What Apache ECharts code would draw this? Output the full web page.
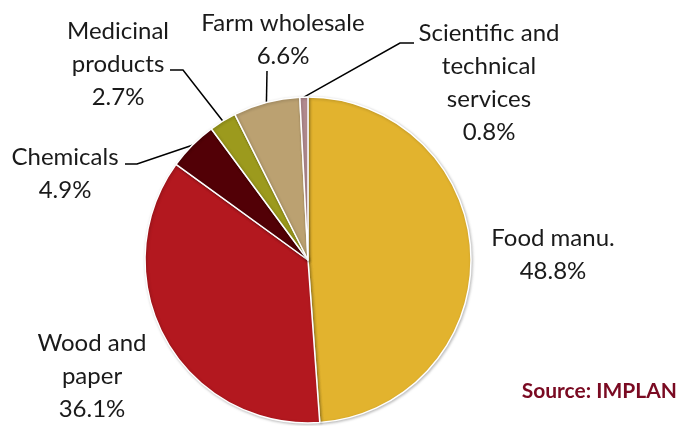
<!DOCTYPE html>
<html>
<head>
<meta charset="utf-8">
<script src="https://cdn.jsdelivr.net/npm/echarts@6/dist/echarts.min.js"></script>
<style>html,body{margin:0;padding:0;background:#fff}#c{width:678px;height:426px}</style>
</head>
<body>
<div id="c"></div>
<script>
const categories = ['Food manu.', 'Wood and\npaper', 'Chemicals', 'Medicinal\nproducts', 'Farm wholesale', 'Scientific and\ntechnical\nservices'];
const values = [48.8, 36.1, 4.9, 2.7, 6.6, 0.8];
const colors = ['#E2B32E', '#B3181F', '#520006', '#9C9A1D', '#BBA171', '#B38B90'];

// label block centres and leader-line bend points (styling only)
const labelPos = [
  {x: 553, y: 255},
  {x: 92, y: 376},
  {x: 65, y: 174},
  {x: 118, y: 64},
  {x: 283, y: 40},
  {x: 489, y: 83}
];
const bends = [
  null,
  null,
  [[137, 164], [125, 164]],
  [[183, 70], [170, 70]],
  [[267, 71], [267, 71]],
  [[400, 43], [414, 43]]
];

const chart = echarts.init(document.getElementById('c'), null, {renderer: 'canvas'});
const fontFamily = 'Lato, "Open Sans", sans-serif';
chart.setOption({
  animation: false,
  graphic: [{
    type: 'text',
    right: 1,
    top: 381,
    style: {text: 'Source: IMPLAN', font: 'bold 21px ' + fontFamily, fill: '#7A0A22'}
  }],
  series: [{
    type: 'pie',
    center: [308, 260],
    radius: 163,
    startAngle: 90,
    clockwise: true,
    avoidLabelOverlap: false,
    data: categories.map((c, i) => ({
      name: c,
      value: values[i],
      itemStyle: {color: colors[i]},
      labelLine: {show: bends[i] !== null}
    })),
    itemStyle: {
      borderColor: '#fff',
      borderWidth: 1.5,
      shadowBlur: 3,
      shadowColor: 'rgba(0,0,0,0.25)',
      shadowOffsetX: 1,
      shadowOffsetY: 1
    },
    label: {
      show: true,
      position: 'outside',
      formatter: p => p.name + '\n' + p.value.toFixed(1) + '%',
      fontFamily: fontFamily,
      fontSize: 24,
      lineHeight: 33,
      color: '#1a1a1a',
      align: 'center'
    },
    labelLine: {
      show: true,
      minTurnAngle: 0,
      maxSurfaceAngle: 180,
      lineStyle: {color: '#000', width: 1.5},
      smooth: false
    },
    labelLayout: function (params) {
      const i = params.dataIndex;
      const p = labelPos[i];
      const out = {
        x: p.x,
        y: p.y,
        align: 'center',
        verticalAlign: 'middle'
      };
      if (bends[i] && params.labelLinePoints) {
        const a = params.labelLinePoints[0];
        out.labelLinePoints = [[a[0], a[1]], bends[i][0], bends[i][1]];
      }
      return out;
    }
  }]
});
</script>
</body>
</html>
